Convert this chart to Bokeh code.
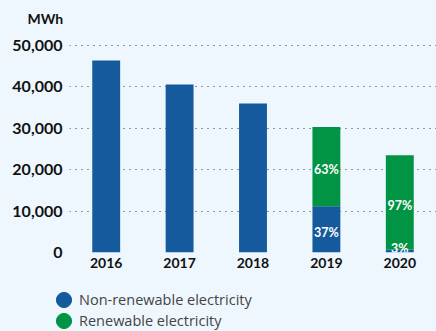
from bokeh.plotting import figure
from bokeh.layouts import column
from bokeh.models import ColumnDataSource, Legend, LegendItem, Title, NumeralTickFormatter, FixedTicker
from bokeh.core.properties import value
from bokeh.embed import file_html
from bokeh.resources import INLINE

years = ["2016", "2017", "2018", "2019", "2020"]
non_renewable = [46400, 40600, 36000, 11200, 700]
renewable = [0, 0, 0, 19100, 22800]
y_ticks = [0, 10000, 20000, 30000, 40000, 50000]
series_names = ["Non-renewable electricity", "Renewable electricity"]

BLUE = "#155A9C"
GREEN = "#009444"
BG = "#EEF7FD"
FONT = "Lato"

src = ColumnDataSource(dict(years=years, non_renewable=non_renewable, renewable=renewable))

p = figure(x_range=years, y_range=(0, 54100), width=436, height=281,
           output_backend="svg", toolbar_location=None,
           min_border_left=69, min_border_right=0, min_border_top=28, min_border_bottom=29,
           background_fill_color=BG, border_fill_color=BG, outline_line_color=None)

p.vbar_stack(["non_renewable", "renewable"], x="years", width=0.38, source=src,
             color=[BLUE, GREEN], line_color=None)

# percentage labels
lx, ly, lt = [], [], []
for yr, n, r in zip(years, non_renewable, renewable):
    if r > 0:
        tot = n + r
        lx += [yr, yr]
        ly += [max(n / 2, 1600), n + r / 2]
        lt += [f"{round(n / tot * 100)}%", f"{round(r / tot * 100)}%"]
p.text(x=lx, y=ly, text=lt, text_color="white", text_font=value(FONT), text_font_style="bold",
       text_font_size="12.5px", text_align="center", text_baseline="middle", y_offset=3)

# axes
p.xaxis.axis_line_color = None
p.xaxis.major_tick_line_color = None
p.xaxis.minor_tick_line_color = None
p.xaxis.major_tick_out = 0
p.xaxis.major_tick_in = 0
p.xaxis.major_label_text_font = FONT
p.xaxis.major_label_text_font_style = "bold"
p.xaxis.major_label_text_font_size = "14px"
p.xaxis.major_label_text_color = "#111111"
p.xaxis.major_label_standoff = 5

p.yaxis.ticker = FixedTicker(ticks=y_ticks)
p.yaxis.formatter = NumeralTickFormatter(format="0,0")
p.yaxis.axis_line_color = None
p.yaxis.major_tick_line_color = None
p.yaxis.minor_tick_line_color = None
p.yaxis.major_tick_out = 0
p.yaxis.major_tick_in = 0
p.yaxis.major_label_text_font = FONT
p.yaxis.major_label_text_font_style = "bold"
p.yaxis.major_label_text_font_size = "16px"
p.yaxis.major_label_text_color = "#111111"
p.yaxis.major_label_standoff = 7

p.xgrid.grid_line_color = None
p.ygrid.grid_line_color = "#333333"
p.ygrid.grid_line_dash = "1 5"
p.ygrid.grid_line_width = 1

p.add_layout(Title(text="MWh", align="left", offset=-42, standoff=4,
                   text_font=FONT, text_font_style="bold", text_font_size="14px",
                   text_color="#111111"), "above")

# legend in its own strip below the chart
lg = figure(width=436, height=50, x_range=(0, 1), y_range=(0, 1),
            output_backend="svg", toolbar_location=None,
            min_border=0, x_axis_type=None, y_axis_type=None,
            background_fill_color=BG, border_fill_color=BG, outline_line_color=None)
lg.frame_align = False
lg.xgrid.grid_line_color = None
lg.ygrid.grid_line_color = None
nan = float("nan")
r1 = lg.ellipse(x=[0.5], y=[nan], width=15, height=15, width_units="screen",
                height_units="screen", color=BLUE)
r2 = lg.ellipse(x=[0.5], y=[nan], width=15, height=15, width_units="screen",
                height_units="screen", color=GREEN)
legend = Legend(items=[LegendItem(label=series_names[0], renderers=[r1]),
                       LegendItem(label=series_names[1], renderers=[r2])],
                location=(54, 1), orientation="vertical",
                glyph_width=19, glyph_height=19, spacing=2, label_standoff=6,
                padding=0, margin=0, border_line_color=None, background_fill_alpha=0,
                label_text_font="Open Sans", label_text_font_size="14.5px",
                label_text_color="#444444")
lg.add_layout(legend, "center")

layout = column(p, lg, spacing=0, styles={"background-color": BG})
open("out.html", "w").write(file_html(layout, INLINE))
